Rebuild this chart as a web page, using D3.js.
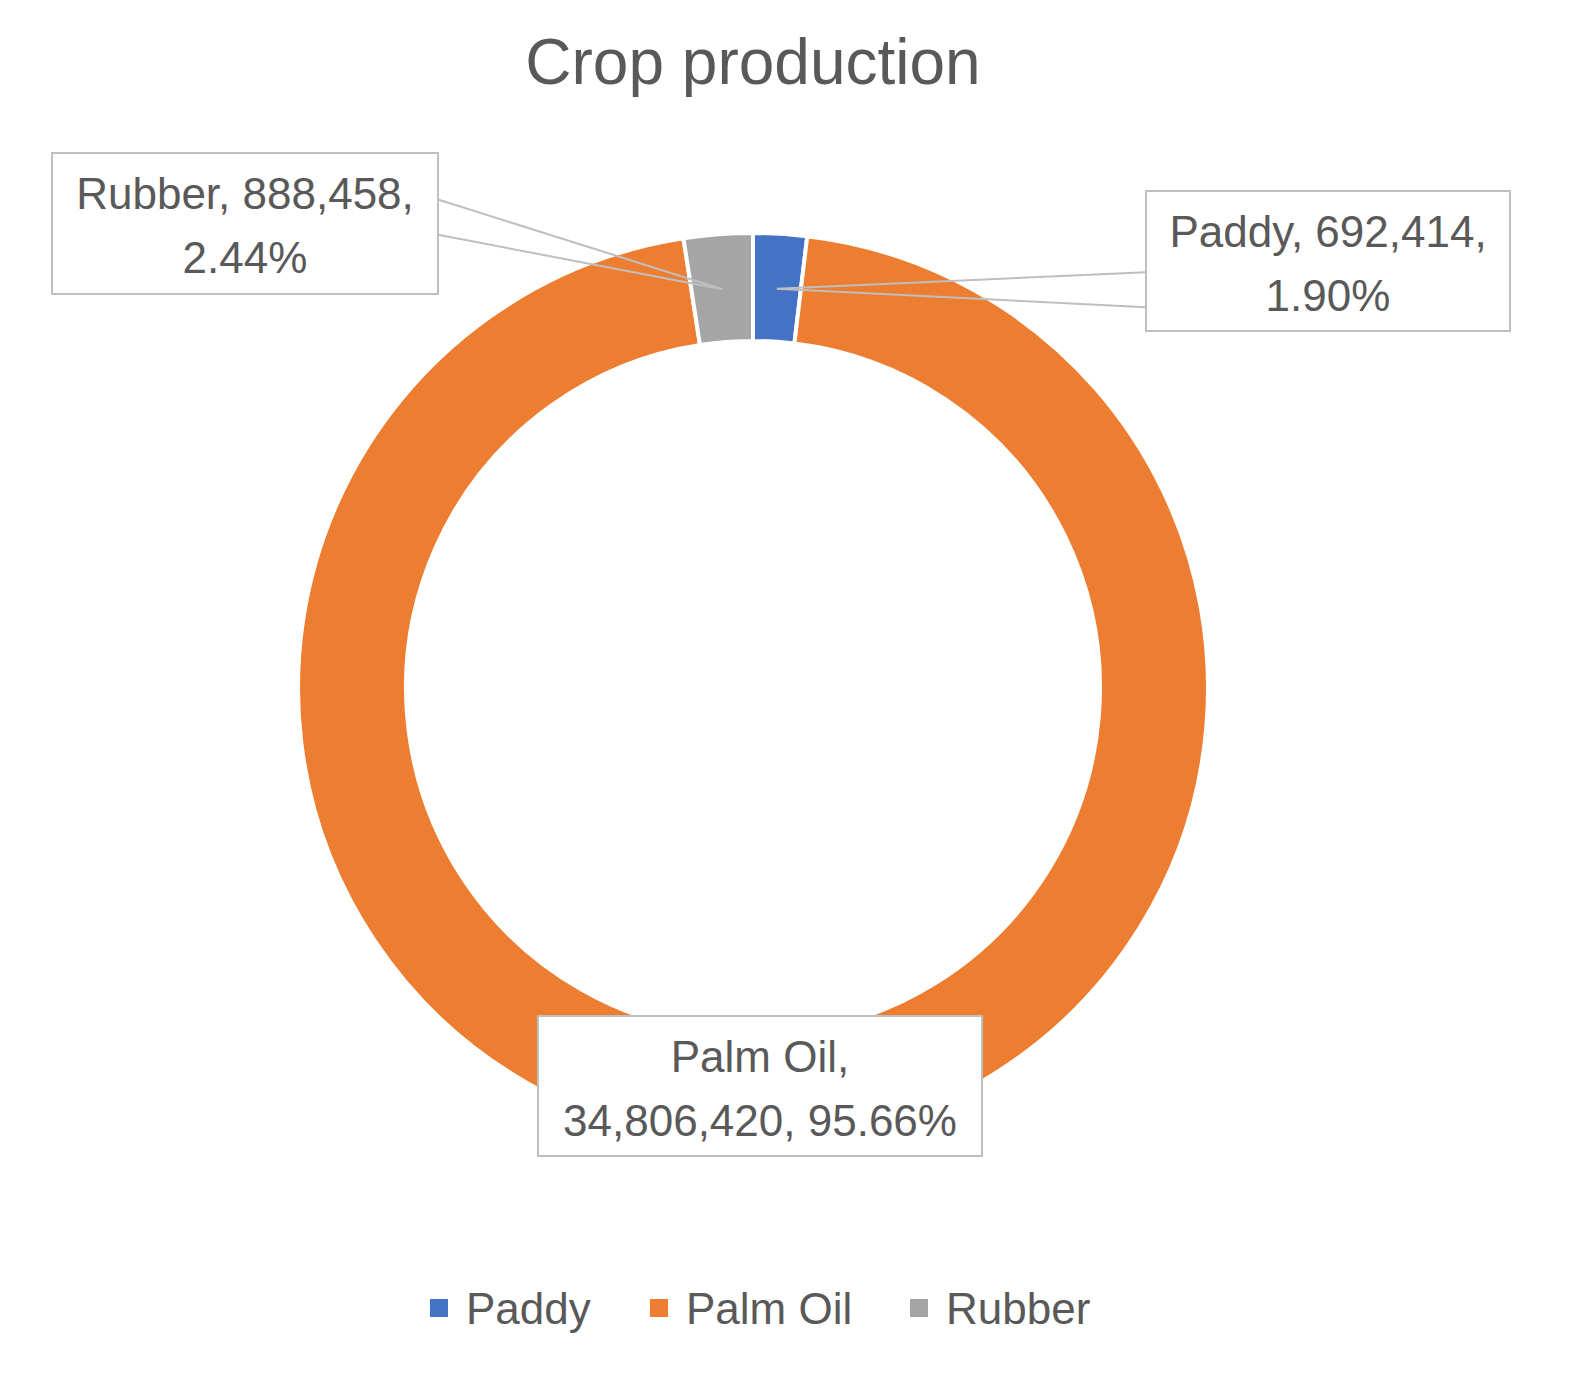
<!DOCTYPE html>
<html>
<head>
<meta charset="utf-8">
<script src="https://cdn.jsdelivr.net/npm/d3@7"></script>
<style>
  body { margin: 0; background: #fff; }
  text { font-family: "Liberation Sans", Arial, sans-serif; fill: #595959; }
</style>
</head>
<body>
<svg id="chart" width="1578" height="1392"></svg>
<script>
// data
var categories = ['Paddy', 'Palm Oil', 'Rubber'];
var values = [692414, 34806420, 888458];
var percentLabels = ['1.90%', '95.66%', '2.44%'];
var colors = ['#4472C4', '#ED7D31', '#A5A5A5'];

var svg = d3.select('#chart');
var cx = 753, cy = 688, outerR = 455, innerR = 347;

svg.append('text')
    .attr('x', cx).attr('y', 84)
    .attr('text-anchor', 'middle')
    .style('font-size', '64px')
    .text('Crop production');

var pie = d3.pie().sort(null).value(function (d) { return d; });
var arc = d3.arc().innerRadius(innerR).outerRadius(outerR);
var arcs = pie(values);

var g = svg.append('g').attr('transform', 'translate(' + cx + ',' + cy + ')');
g.selectAll('path').data(arcs).enter().append('path')
    .attr('d', arc)
    .attr('fill', function (d, i) { return colors[i]; })
    .attr('stroke', '#fff')
    .attr('stroke-width', 4);

function fmt(n) { return d3.format(',')(n); }

// label boxes: [x, y, w, h, lines, anchor for leader lines]
var boxes = [
    { i: 0, x: 1146, y: 191, w: 364, h: 140, lines: [categories[0] + ', ' + fmt(values[0]) + ',', percentLabels[0]], side: 'left' },
    { i: 1, x: 538, y: 1016, w: 444, h: 140, lines: [categories[1] + ',', fmt(values[1]) + ', ' + percentLabels[1]], side: null },
    { i: 2, x: 52, y: 153, w: 386, h: 141, lines: [categories[2] + ', ' + fmt(values[2]) + ',', percentLabels[2]], side: 'right' }
];

var leaderR = (innerR + outerR) / 2 + 50;
boxes.forEach(function (b) {
    if (b.side) {
        var a = arcs[b.i];
        var mid = (a.startAngle + a.endAngle) / 2;
        var px = cx + Math.sin(mid) * (outerR - 55);
        var py = cy - Math.cos(mid) * (outerR - 55);
        var ex = b.side === 'left' ? b.x : b.x + b.w;
        [b.y + b.h * 0.58, b.y + b.h * 0.83].forEach(function (ly) {
            svg.append('line')
                .attr('x1', ex).attr('y1', ly - (b.side === 'right' ? 0.25 * b.h : 0))
                .attr('x2', px).attr('y2', py)
                .attr('stroke', '#BFBFBF').attr('stroke-width', 2);
        });
    }
    svg.append('rect')
        .attr('x', b.x).attr('y', b.y).attr('width', b.w).attr('height', b.h)
        .attr('fill', '#fff').attr('stroke', '#BFBFBF').attr('stroke-width', 2);
    b.lines.forEach(function (t, k) {
        svg.append('text')
            .attr('x', b.x + b.w / 2).attr('y', b.y + 56 + k * 64)
            .attr('text-anchor', 'middle')
            .style('font-size', '44px')
            .text(t);
    });
});

// legend
var legendX = [430, 650, 910];
categories.forEach(function (c, i) {
    svg.append('rect')
        .attr('x', legendX[i]).attr('y', 1299).attr('width', 18).attr('height', 18)
        .attr('fill', colors[i]);
    svg.append('text')
        .attr('x', legendX[i] + 36).attr('y', 1324)
        .style('font-size', '44px')
        .text(c);
});
</script>
</body>
</html>
